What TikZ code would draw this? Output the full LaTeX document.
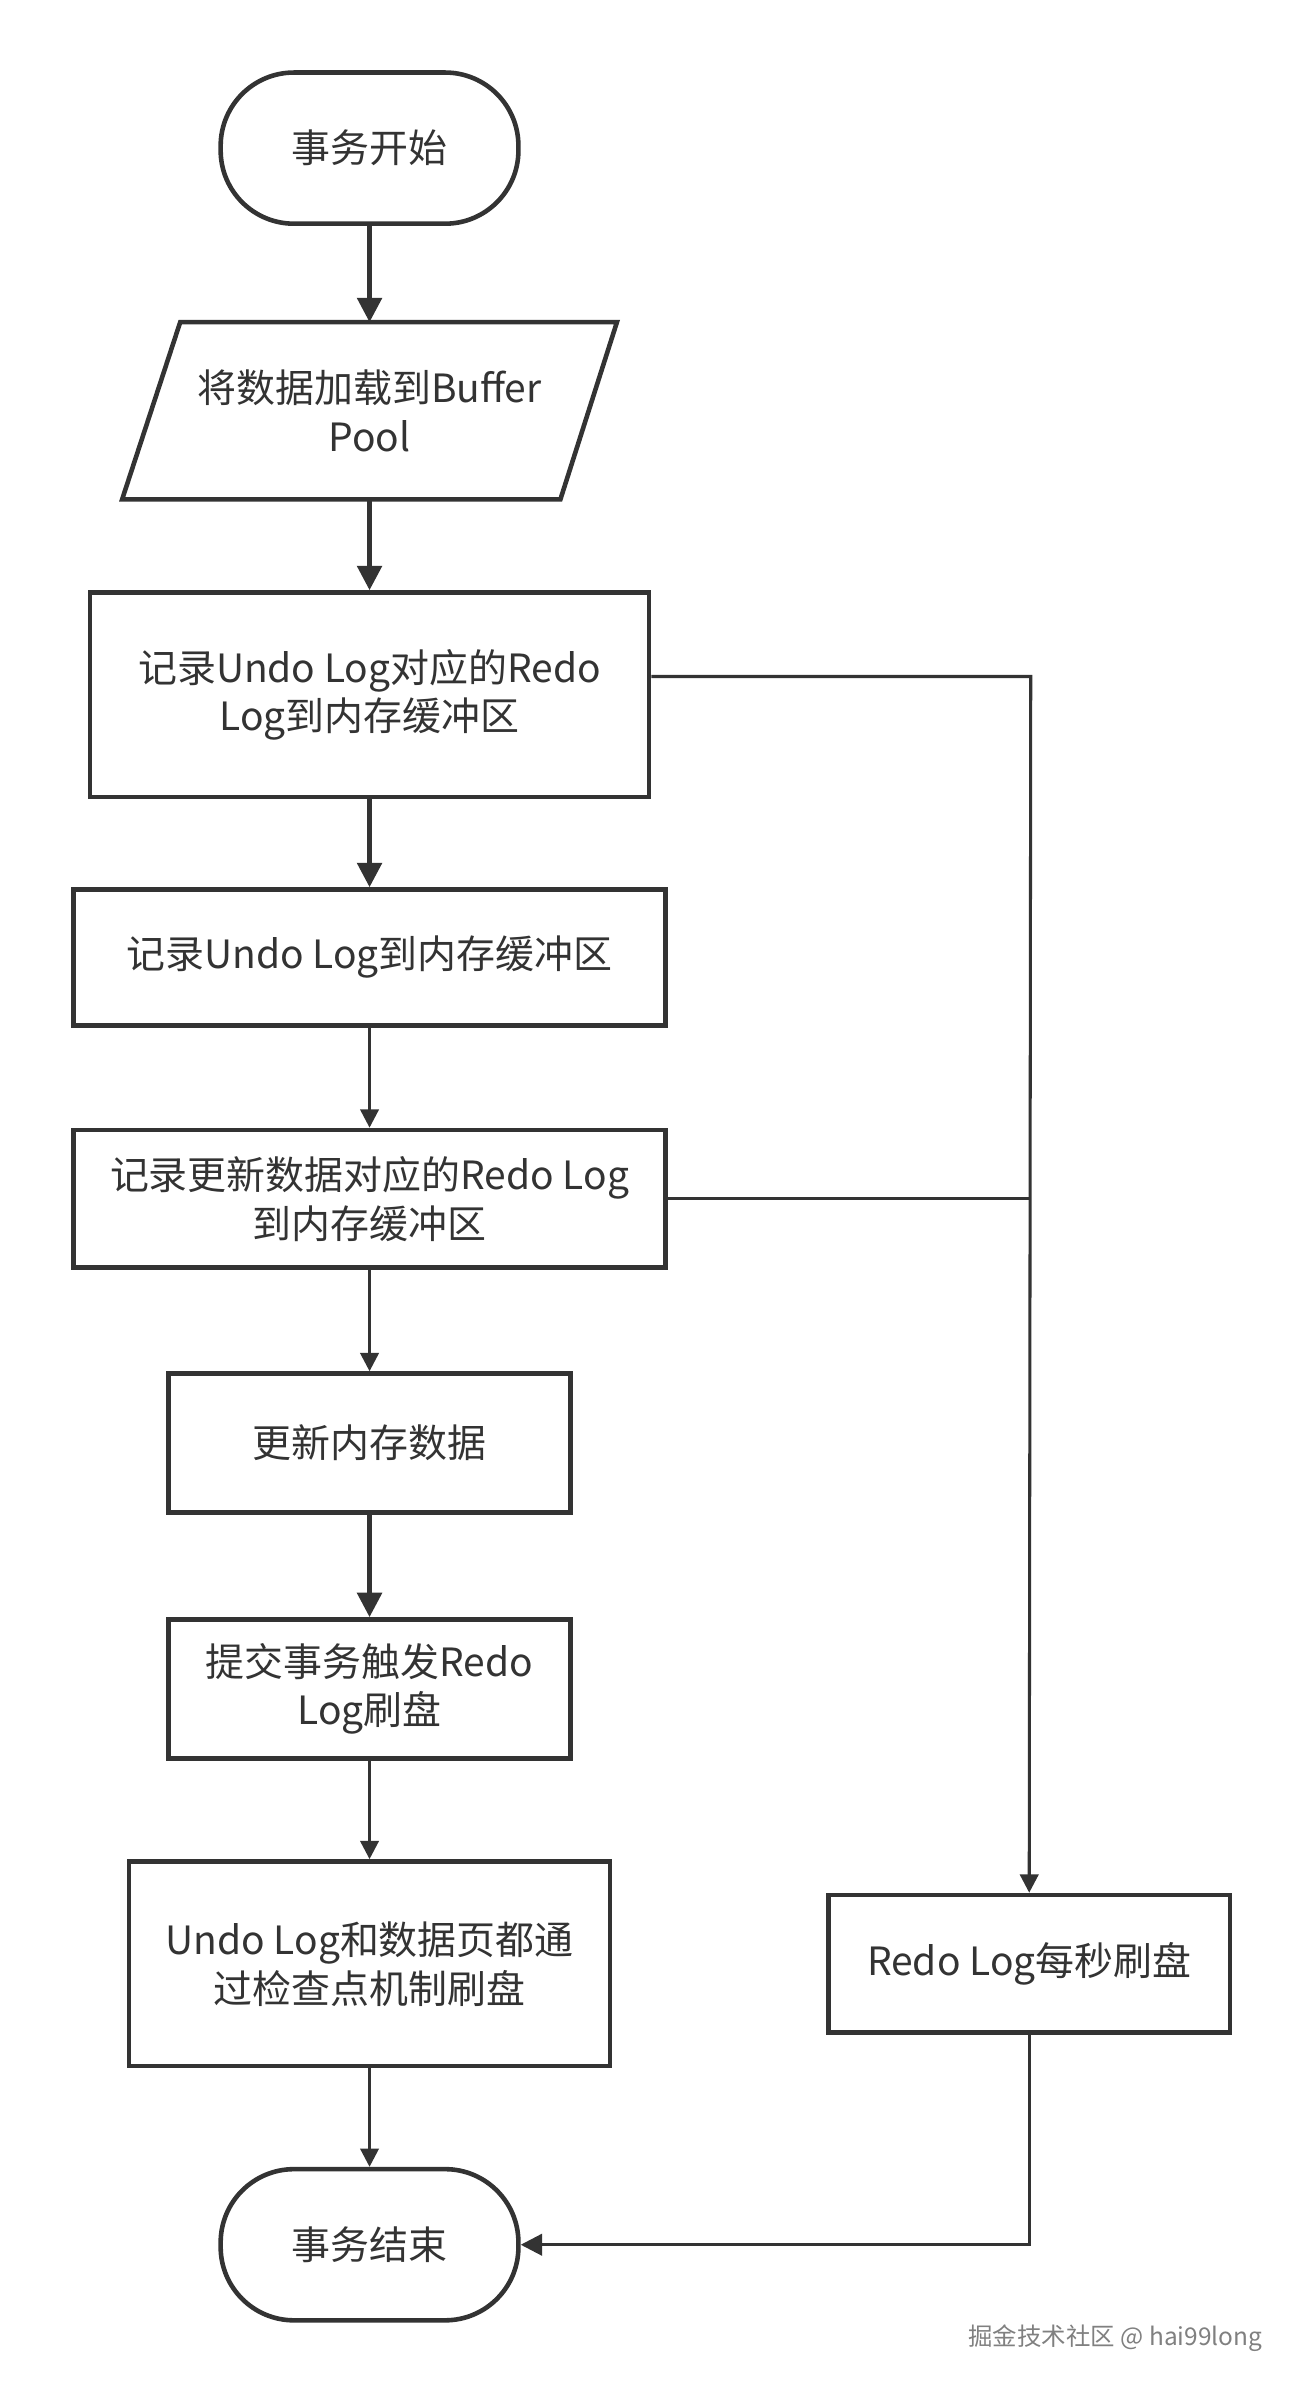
\documentclass[tikz,border=0pt]{standalone}
\usepackage{fontspec}
\setmainfont{Noto Sans CJK SC}
\usetikzlibrary{arrows.meta}
\definecolor{ln}{HTML}{333333}
\begin{document}
\begin{tikzpicture}[x=1pt,y=-1pt,
  box/.style={draw=ln,line width=3pt,minimum width=#1,align=center,font=\fontsize{25.5}{32}\selectfont,text=ln},
  term/.style={draw=ln,line width=3pt,rounded corners=48pt,minimum width=195pt,minimum height=99pt,font=\fontsize{25.5}{32}\selectfont,text=ln},
  conn/.style={draw=ln,line width=3pt,-{Triangle[length=16pt,width=16pt]}},
  wire/.style={draw=ln,line width=2pt}]
\useasboundingbox (0,0) rectangle (858,1573);
\node[term] (s) at (242,97) {事务开始};
\draw[ln,line width=3pt,line join=miter] (118,211) -- (404,211) -- (367,327) -- (80,327) -- cycle;
\coordinate (ptop) at (242,211);
\coordinate (pbot) at (242,327);
\node[font=\fontsize{25.5}{32}\selectfont,text=ln,align=center] (p) at (242,269) {将数据加载到Buffer\\Pool};
\node[box=366pt,minimum height=134pt] (b1) at (242,455) {记录Undo Log对应的Redo\\Log到内存缓冲区};
\node[box=388pt,minimum height=89pt] (b2) at (242,627) {记录Undo Log到内存缓冲区};
\node[box=388pt,minimum height=90pt] (b3) at (242,785) {记录更新数据对应的Redo Log\\到内存缓冲区};
\node[box=263pt,minimum height=91pt] (b4) at (242,945) {更新内存数据};
\node[box=263pt,minimum height=91pt] (b5) at (242,1106) {提交事务触发Redo\\Log刷盘};
\node[box=315pt,minimum height=134pt] (b6) at (242,1286) {Undo Log和数据页都通\\过检查点机制刷盘};
\node[term] (e) at (242,1470) {事务结束};
\node[box=263pt,minimum height=90pt] (r) at (674,1286) {Redo Log每秒刷盘};
\draw[conn] (s) -- (ptop);
\draw[conn] (pbot) -- (b1);
\draw[conn] (b1) -- (b2);
\draw[wire,-{Triangle[length=12pt,width=12pt]}] (b2) -- (b3);
\draw[wire,-{Triangle[length=12pt,width=12pt]}] (b3) -- (b4);
\draw[conn] (b4) -- (b5);
\draw[wire,-{Triangle[length=12pt,width=12pt]}] (b5) -- (b6);
\draw[wire,-{Triangle[length=12pt,width=12pt]}] (b6) -- (e);
\draw[wire,-{Triangle[length=12pt,width=12pt]}] (b1.east|-0,443) -- (675,443) -- (r.north);
\draw[wire] (b3.east) -- (675,785);
\draw[wire,-{Triangle[length=14pt,width=14pt]}] (r.south) -- (674,1470) -- (e.east);
\node[font=\fontsize{16}{18}\selectfont,text=gray,anchor=east] (w) at (830,1531) {掘金技术社区 @ hai99long};
\end{tikzpicture}
\end{document}
